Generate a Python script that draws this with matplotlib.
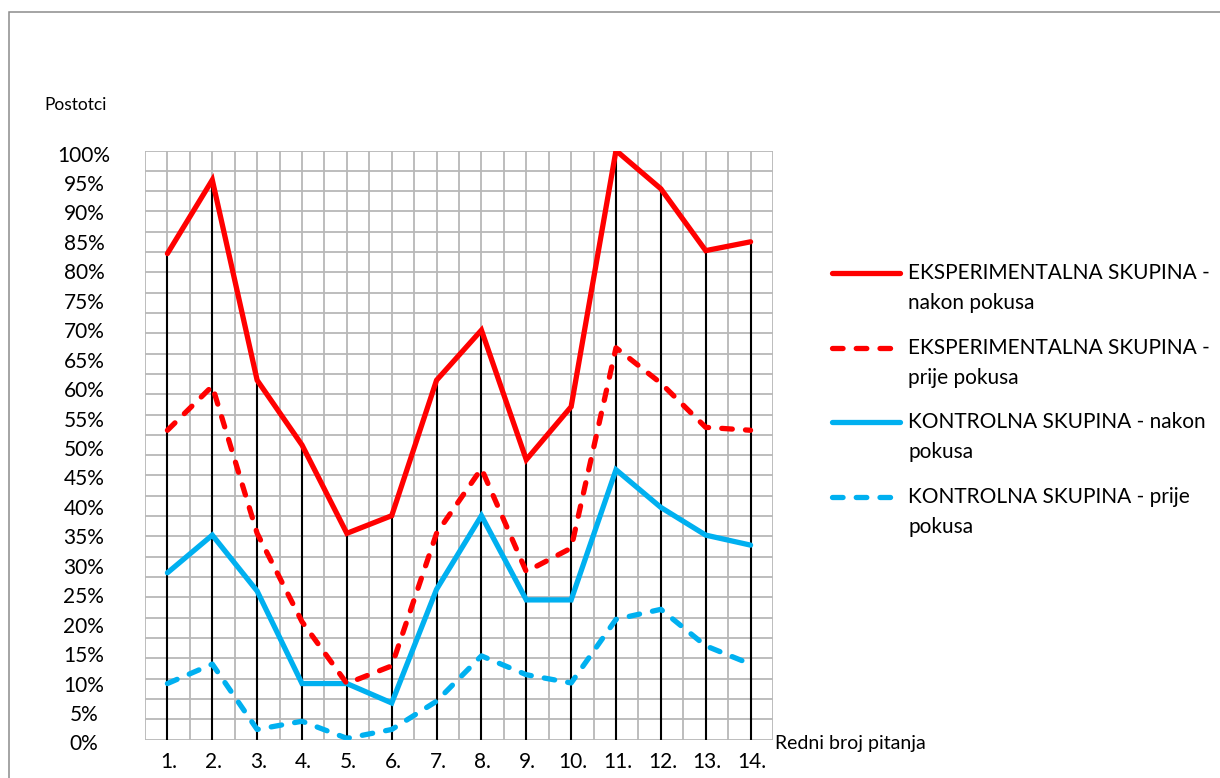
import matplotlib
matplotlib.use("Agg")
import matplotlib.pyplot as plt
import matplotlib.transforms as mtransforms
import numpy as np
from matplotlib.lines import Line2D
from matplotlib.patches import Rectangle

plt.rcParams['font.family'] = ['Lato', 'DejaVu Sans']

categories = ["1.", "2.", "3.", "4.", "5.", "6.", "7.", "8.", "9.", "10.", "11.", "12.", "13.", "14."]
eksp_nakon = [82.5, 95, 61, 50, 35, 38, 61, 69.5, 47.5, 56.5, 100, 93.5, 83, 84.5]
eksp_prije = [52.5, 60, 35, 20, 9.5, 12.5, 35, 46, 28.5, 32.5, 66.5, 60.5, 53, 52.5]
kontr_nakon = [28.3, 34.7, 25.2, 9.5, 9.5, 6.2, 25.5, 38, 23.7, 23.7, 45.8, 39.4, 34.7, 33]
kontr_prije = [9.5, 12.8, 1.7, 3.1, 0.2, 1.7, 6.5, 14.2, 11, 9.6, 20.4, 22.1, 15.9, 12.8]
y_ticks = list(range(0, 101, 5))
series_labels = [["EKSPERIMENTALNA SKUPINA -", "nakon pokusa"],
                 ["EKSPERIMENTALNA SKUPINA -", "prije pokusa"],
                 ["KONTROLNA SKUPINA - nakon", "pokusa"],
                 ["KONTROLNA SKUPINA - prije", "pokusa"]]

W, H = 1220, 778
fig = plt.figure(figsize=(W / 100, H / 100), dpi=100)

# outer frame
fig.add_artist(Rectangle((8.5 / W, -0.1), 2, 1 - 12.5 / H + 0.1, transform=fig.transFigure,
                         fill=False, edgecolor='#8c8c8c', linewidth=1.1))

ax = fig.add_axes([145 / W, 1 - 739.5 / H, (773 - 145) / W, (739.5 - 150.5) / H])
x = np.arange(len(categories))
ax.set_xlim(-0.5, len(categories) - 0.5)
ax.set_ylim(0, 100)

grid_c = '#b8b8b8'
for gx in np.arange(-0.5, len(categories), 0.5):
    ax.axvline(gx, color=grid_c, lw=1.3, zorder=0)
for gy in np.linspace(0, 100, 30):
    ax.axhline(gy, color=grid_c, lw=1.3, zorder=0)

for s in ax.spines.values():
    s.set_visible(False)

ax.vlines(x, 0, eksp_nakon, color='black', lw=1.5, zorder=1)

red = '#FF0000'
blue = '#00B0F0'
lw = 3.8
dash = (0, (2.0, 2.5))
l1, = ax.plot(x, eksp_nakon, color=red, lw=lw, solid_capstyle='round', solid_joinstyle='miter', zorder=5)
l2, = ax.plot(x, eksp_prije, color=red, lw=lw, ls=dash, dash_capstyle='round', zorder=4)
l3, = ax.plot(x, kontr_nakon, color=blue, lw=lw, solid_capstyle='round', solid_joinstyle='miter', zorder=3)
l4, = ax.plot(x, kontr_prije, color=blue, lw=lw, ls=dash, dash_capstyle='round', zorder=2)

ax.set_xticks(x)
ax.set_xticklabels(categories, fontsize=15)
ax.set_yticks(y_ticks)
ax.set_yticklabels([f"{v}%" for v in y_ticks], fontsize=15, ha='center')
ax.tick_params(axis='both', length=0, colors='black')
ax.tick_params(axis='y', pad=44)
ax.tick_params(axis='x', pad=9)
yoff = mtransforms.ScaledTranslation(0, -3 / 100, fig.dpi_scale_trans)
for lab in ax.get_yticklabels():
    lab.set_transform(lab.get_transform() + yoff)
xoff = mtransforms.ScaledTranslation(1.5 / 100, 0, fig.dpi_scale_trans)
for lab in ax.get_xticklabels():
    lab.set_transform(lab.get_transform() + xoff)

fig.text(76 / W, 1 - 105 / H, "Postotci", fontsize=12.5, ha='center', va='center')
fig.text(775 / W, 1 - 743 / H, "Redni broj pitanja", fontsize=14, ha='left', va='center')

# legend (manual layout)
styles = [(red, '-'), (red, dash), (blue, '-'), (blue, dash)]
for i, ((c, ls), lines) in enumerate(zip(styles, series_labels)):
    yc = 273 + 74.7 * i
    fig.add_artist(Line2D([832 / W, 900 / W], [1 - yc / H, 1 - yc / H], transform=fig.transFigure,
                          color=c, lw=lw, ls=ls, solid_capstyle='round', dash_capstyle='round'))
    for j, t in enumerate(lines):
        fig.text(908 / W, 1 - (yc + 30 * j) / H, t, fontsize=15, ha='left', va='center')

fig.savefig("out.png", dpi=100)
